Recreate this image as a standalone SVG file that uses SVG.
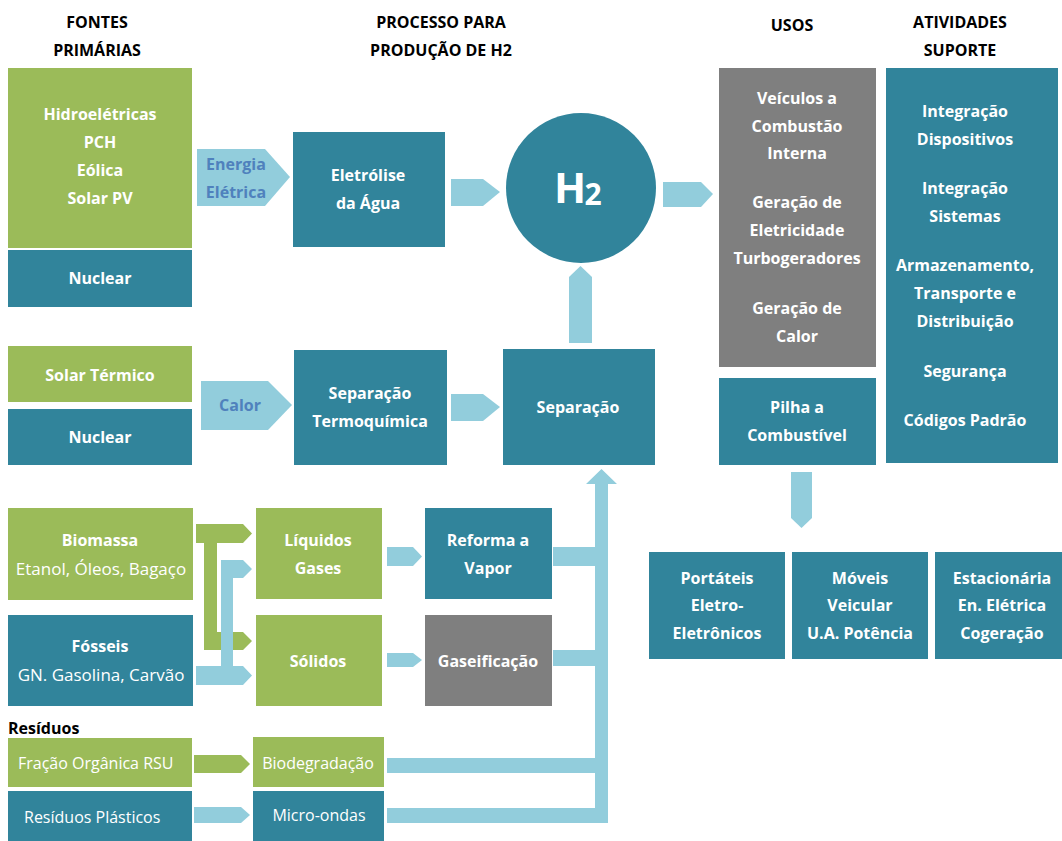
<svg xmlns="http://www.w3.org/2000/svg" width="1062" height="841" viewBox="0 0 1062 841">
<style>
.g{fill:#9BBB59}.t{fill:#31849B}.y{fill:#7F7F7F}.a{fill:#92CDDC}
text{font-family:"Open Sans","Liberation Sans",sans-serif;font-size:16px;font-weight:700;fill:#fff;text-anchor:middle;dominant-baseline:central}
.h{fill:#000}
.r{font-weight:400;font-size:17px}
.s{font-weight:400;font-size:16px}
.lb{fill:#4F81BD}
.l{text-anchor:start}
</style>
<rect width="1062" height="841" fill="#fff"/>
<g id="headers">
<text class="h" x="97" y="22">FONTES</text><text class="h" x="97" y="50">PRIMÁRIAS</text>
<text class="h" x="441" y="22">PROCESSO PARA</text><text class="h" x="441" y="50">PRODUÇÃO DE H2</text>
<text class="h" x="792" y="25">USOS</text>
<text class="h" x="960" y="22">ATIVIDADES</text><text class="h" x="960" y="50">SUPORTE</text>
</g>
<g id="connectors">
<polygon class="a" points="197,149 265,149 290,177 265,206 197,206"/>
<text class="lb" x="236" y="164">Energia</text><text class="lb" x="236" y="192">Elétrica</text>
<polygon class="a" points="451,179 483,179 500,192 483,206 451,206"/>
<polygon class="a" points="663,182 701,182 713,194 701,207 663,207"/>
<polygon class="a" points="791,472 812,472 812,518 801.5,528 791,518"/>
<polygon class="a" points="201,381 268,381 292,405 268,430 201,430"/>
<text class="lb" x="240" y="405">Calor</text>
<polygon class="a" points="451,394 483,394 500,407 483,421 451,421"/>
<polygon class="a" points="569,343 569,277 580.5,266 592,277 592,343"/>
<path class="g" d="M196,524 H243 L252,533.5 L243,543 H217 V632 H243 L252,641 L243,650 H204 V543 H196 Z"/>
<path class="a" d="M221,560 H243 L252,569 L243,578 H233 V666 H243 L252,675.5 L243,685 H196 V666 H221 Z"/>
<polygon class="a" points="387,547 413,547 422,556.5 413,566 387,566"/>
<polygon class="a" points="387,653 413,653 422,660 413,667 387,667"/>
<polygon class="g" points="194,755 241,755 250,764 241,773 194,773"/>
<polygon class="a" points="194,807 241,807 250,815 241,823 194,823"/>
<path class="a" d="M553,547 H595 V484 H586 L601.5,469 L617,484 H608 V823 H387 V808 H595 V773 H387 V758 H595 V666 H553 V650 H595 V566 H553 Z"/>
</g>
<g id="hidro"><rect class="g" x="8" y="68" width="184" height="180"/>
<text x="100" y="114">Hidroelétricas</text><text x="100" y="142">PCH</text><text x="100" y="170">Eólica</text><text x="100" y="198">Solar PV</text></g>
<g id="nuclear1"><rect class="t" x="8" y="250" width="184" height="57"/><text x="100" y="278">Nuclear</text></g>
<g id="solar-termico"><rect class="g" x="8" y="346" width="184" height="56"/><text x="100" y="375">Solar Térmico</text></g>
<g id="nuclear2"><rect class="t" x="8" y="409" width="184" height="56"/><text x="100" y="437">Nuclear</text></g>
<g id="eletrolise"><rect class="t" x="293" y="132" width="152" height="115"/><text x="368" y="175">Eletrólise</text><text x="368" y="203">da Água</text></g>
<g id="h2"><circle class="t" cx="581" cy="188" r="75"/>
<text x="570" y="186" style="font-size:42px">H</text><text x="593" y="193" style="font-size:30px">2</text></g>
<g id="sep-termo"><rect class="t" x="294" y="350" width="153" height="115"/><text x="370" y="393">Separação</text><text x="370" y="421">Termoquímica</text></g>
<g id="separacao"><rect class="t" x="503" y="349" width="152" height="116"/><text x="578" y="407">Separação</text></g>
<g id="usos"><rect class="y" x="719" y="68" width="157" height="299"/>
<text x="797" y="98">Veículos a</text><text x="797" y="126">Combustão</text><text x="797" y="153">Interna</text>
<text x="797" y="202">Geração de</text><text x="797" y="230">Eletricidade</text><text x="797" y="258">Turbogeradores</text>
<text x="797" y="308">Geração de</text><text x="797" y="336">Calor</text></g>
<g id="pilha"><rect class="t" x="719" y="378" width="157" height="87"/><text x="797" y="407">Pilha a</text><text x="797" y="435">Combustível</text></g>
<g id="atividades"><rect class="t" x="886" y="68" width="172" height="395"/>
<text x="965" y="111">Integração</text><text x="965" y="139">Dispositivos</text>
<text x="965" y="188">Integração</text><text x="965" y="216">Sistemas</text>
<text x="965" y="265">Armazenamento,</text><text x="965" y="293">Transporte e</text><text x="965" y="321">Distribuição</text>
<text x="965" y="371">Segurança</text><text x="965" y="420">Códigos Padrão</text></g>
<g id="portateis"><rect class="t" x="649" y="552" width="136" height="107"/><text x="717" y="578">Portáteis</text><text x="717" y="605">Eletro-</text><text x="717" y="633">Eletrônicos</text></g>
<g id="moveis"><rect class="t" x="792" y="552" width="136" height="107"/><text x="860" y="578">Móveis</text><text x="860" y="605">Veicular</text><text x="860" y="633">U.A. Potência</text></g>
<g id="estacionaria"><rect class="t" x="935" y="552" width="127" height="107"/><text x="1002" y="578">Estacionária</text><text x="1002" y="605">En. Elétrica</text><text x="1002" y="633">Cogeração</text></g>
<g id="biomassa"><rect class="g" x="8" y="508" width="185" height="92"/><text x="100" y="540">Biomassa</text><text class="r" x="101" y="568">Etanol, Óleos, Bagaço</text></g>
<g id="fosseis"><rect class="t" x="8" y="615" width="185" height="91"/><text x="100" y="646">Fósseis</text><text class="r" x="101" y="674">GN. Gasolina, Carvão</text></g>
<g id="liquidos"><rect class="g" x="256" y="508" width="126" height="91"/><text x="318" y="540">Líquidos</text><text x="318" y="568">Gases</text></g>
<g id="solidos"><rect class="g" x="256" y="615" width="126" height="91"/><text x="318" y="661">Sólidos</text></g>
<g id="reforma"><rect class="t" x="425" y="508" width="127" height="91"/><text x="488" y="540">Reforma a</text><text x="488" y="568">Vapor</text></g>
<g id="gaseificacao"><rect class="y" x="425" y="615" width="127" height="91"/><text x="488" y="661">Gaseificação</text></g>
<g id="residuos-label"><text class="h l" x="8" y="728">Resíduos</text></g>
<g id="fracao"><rect class="g" x="8" y="738" width="184" height="49"/><text class="s l" x="18" y="763">Fração Orgânica RSU</text></g>
<g id="plasticos"><rect class="t" x="8" y="791" width="184" height="50"/><text class="s l" x="24" y="817">Resíduos Plásticos</text></g>
<g id="biodegradacao"><rect class="g" x="253" y="737" width="131" height="50"/><text class="s" x="318" y="763">Biodegradação</text></g>
<g id="microondas"><rect class="t" x="253" y="791" width="131" height="50"/><text class="s" x="319" y="815">Micro-ondas</text></g>
</svg>
